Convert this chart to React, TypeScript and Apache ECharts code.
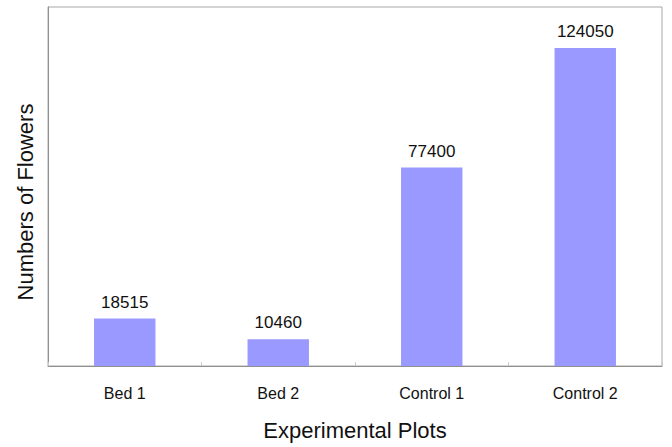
import React, { useEffect, useRef } from "react";
import * as echarts from "echarts";

const categories = ["Bed 1", "Bed 2", "Control 1", "Control 2"];
const flowerCounts = [18515, 10460, 77400, 124050];
const xTitle = "Experimental Plots";
const yTitle = "Numbers of Flowers";

export default function App() {
  const ref = useRef<HTMLDivElement>(null);
  useEffect(() => {
    if (!ref.current) return;
    const chart = echarts.init(ref.current, null, { renderer: "svg" });
    const font = "'Liberation Sans', Arial, sans-serif";
    chart.setOption({
      animation: false,
      backgroundColor: "#ffffff",
      grid: {
        left: 48,
        top: 7,
        right: 10,
        bottom: 81,
        show: true,
        borderColor: "#a8a8a8",
        borderWidth: 1,
      },
      xAxis: {
        type: "category",
        data: categories,
        name: xTitle,
        nameLocation: "middle",
        nameGap: 53,
        nameTextStyle: { fontFamily: font, fontSize: 22, color: "#111" },
        axisLine: { lineStyle: { color: "#909090", width: 1 } },
        axisTick: { show: true, inside: true, length: 4, lineStyle: { color: "#c8c8c8" } },
        axisLabel: { fontFamily: font, fontSize: 16, color: "#111", margin: 19 },
      },
      yAxis: {
        type: "value",
        min: 0,
        max: 140000,
        axisLine: { show: true, lineStyle: { color: "#909090", width: 1 } },
        axisTick: { show: false },
        axisLabel: { show: false },
        splitLine: { show: false },
      },
      graphic: [
        {
          type: "text",
          x: 25,
          y: 202,
          rotation: Math.PI / 2,
          style: {
            text: yTitle,
            fontFamily: font,
            fontSize: 22,
            fill: "#111",
            textAlign: "center",
            textVerticalAlign: "middle",
          },
        },
      ],
      series: [
        {
          type: "bar",
          data: flowerCounts,
          barWidth: "40%",
          itemStyle: { color: "#9999ff" },
          label: {
            show: true,
            position: "top",
            distance: 8,
            fontFamily: font,
            fontSize: 17,
            color: "#111",
          },
        },
      ],
    });
    return () => chart.dispose();
  }, []);
  return (
    <div
      ref={ref}
      style={{ position: "fixed", left: 0, top: 0, width: 672, height: 447 }}
    />
  );
}
